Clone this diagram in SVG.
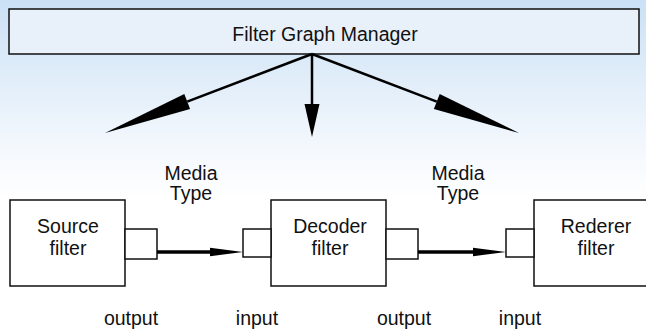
<svg xmlns="http://www.w3.org/2000/svg" width="646" height="331" viewBox="0 0 646 331">
<defs>
<linearGradient id="bg" x1="0" y1="0" x2="0" y2="1">
<stop offset="0" stop-color="#cbe1f5"/>
<stop offset="0.45" stop-color="#f4f8fd"/>
<stop offset="0.6" stop-color="#ffffff"/>
</linearGradient>
</defs>
<style>
.box{fill:#fff;stroke:#111;stroke-width:1.5}
.t{font-family:"Liberation Sans",Arial,sans-serif;font-size:19.5px;fill:#111;text-anchor:middle}
.c{stroke:#000;fill:none}
.hd{fill:#000;stroke:none}
</style>
<rect x="0" y="0" width="646" height="331" fill="url(#bg)"/>
<g id="manager">
<rect x="9" y="9" width="630" height="45" fill="#e8f0fa" stroke="#111" stroke-width="1.5"/>
<text class="t" x="325" y="41">Filter Graph Manager</text>
</g>
<g id="source">
<rect class="box" x="10" y="200" width="115" height="86"/>
<text class="t" x="68" y="233">Source</text>
<text class="t" x="68" y="255">filter</text>
<rect class="box" x="125" y="229" width="32" height="30"/>
</g>
<g id="decoder">
<rect class="box" x="271" y="200" width="115" height="86"/>
<text class="t" x="330" y="233">Decoder</text>
<text class="t" x="330" y="255">filter</text>
<rect class="box" x="243" y="229" width="28" height="28"/>
<rect class="box" x="386" y="229" width="32" height="30"/>
</g>
<g id="renderer">
<rect class="box" x="534" y="200" width="120" height="86"/>
<text class="t" x="596" y="233">Rederer</text>
<text class="t" x="596" y="255">filter</text>
<rect class="box" x="506" y="229" width="28" height="28"/>
</g>
<g id="connectors">
<line class="c" x1="312" y1="54" x2="187.2" y2="101.6" stroke-width="2.5"/>
<polygon class="hd" points="105,133 184.3,94.1 190.1,109.1"/>
<line class="c" x1="312" y1="54" x2="312" y2="105" stroke-width="2.5"/>
<polygon class="hd" points="312,137 304.5,104 319.5,104"/>
<line class="c" x1="312" y1="54" x2="436.8" y2="101.6" stroke-width="2.5"/>
<polygon class="hd" points="519,133 439.7,94.1 433.9,109.1"/>
<line class="c" x1="157" y1="252" x2="212" y2="252" stroke-width="3.5"/>
<polygon class="hd" points="243,252 210,247.8 210,256.2"/>
<line class="c" x1="418" y1="252" x2="475" y2="252" stroke-width="3.5"/>
<polygon class="hd" points="506,252 473,247.8 473,256.2"/>
</g>
<g id="labels">
<text class="t" x="191" y="180">Media</text>
<text class="t" x="191" y="200">Type</text>
<text class="t" x="458" y="180">Media</text>
<text class="t" x="458" y="200">Type</text>
<text class="t" x="131" y="325">output</text>
<text class="t" x="257" y="325">input</text>
<text class="t" x="404" y="325">output</text>
<text class="t" x="520" y="325">input</text>
</g>
</svg>
